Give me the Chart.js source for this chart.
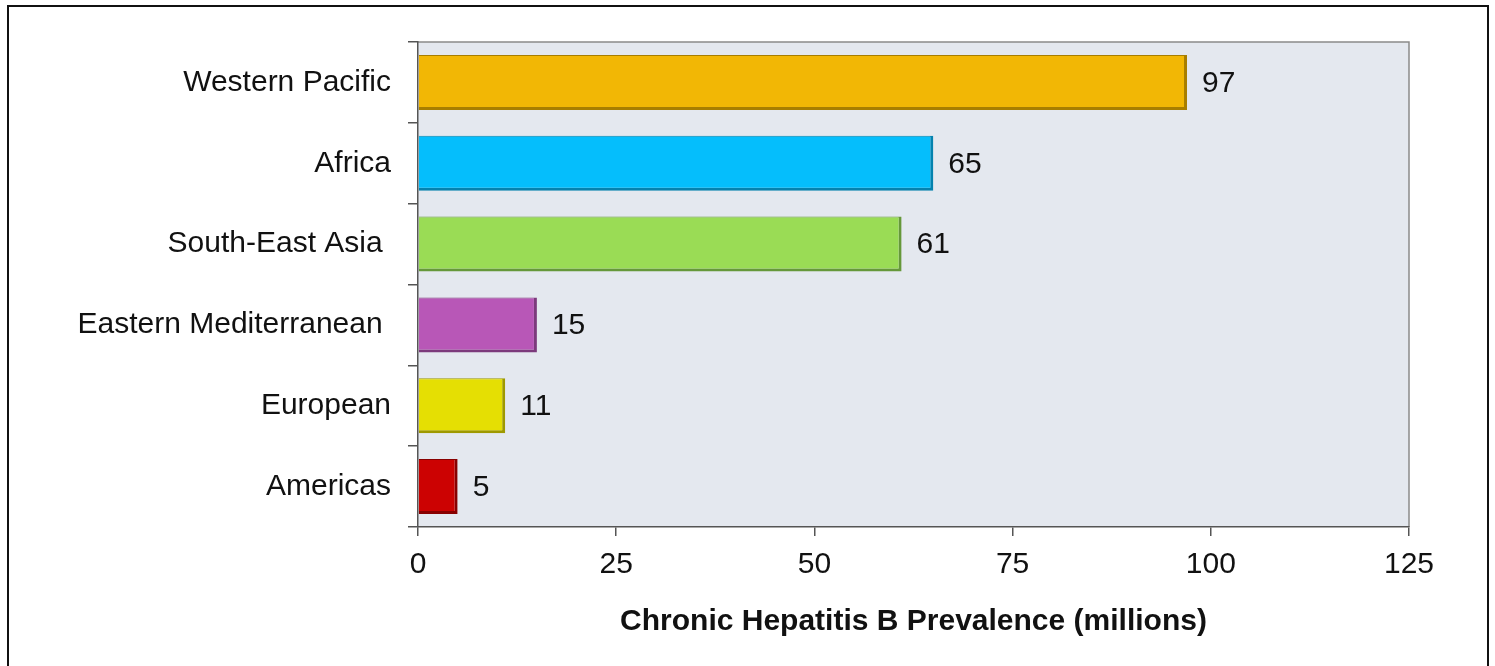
<!DOCTYPE html>
<html>
<head>
<meta charset="utf-8">
<script src="https://cdn.jsdelivr.net/npm/chart.js@4.4.1/dist/chart.umd.min.js"></script>
<style>
    html, body { margin: 0; padding: 0; background: #fff; }
    canvas { display: block; }
</style>
</head>
<body>
<canvas id="prevalenceChart" width="1495" height="666" style="width:1495px;height:666px;"></canvas>
<script>
const regions = ['Western Pacific', 'Africa', 'South-East Asia ', 'Eastern Mediterranean ', 'European', 'Americas'];
const prevalence = [97, 65, 61, 15, 11, 5];
const barColors = ['#F2B705', '#05BEFC', '#9ADC55', '#B857B7', '#E5DF03', '#CC0202'];
const edgeColors = ['#A87E00', '#0582AE', '#65983A', '#7C3A7C', '#9E9900', '#880000'];
const xTicks = [0, 25, 50, 75, 100, 125];
const axisTitle = 'Chronic Hepatitis B Prevalence (millions)';

const FONT = 'Arial, "Liberation Sans", Helvetica, sans-serif';

// plot background, outer frame, top/right edges of plot box
const framePlugin = {
    id: 'frame',
    beforeDraw(chart) {
        const { ctx, chartArea: a } = chart;
        ctx.save();
        ctx.fillStyle = '#fff';
        ctx.fillRect(0, 0, chart.width, chart.height);
        ctx.strokeStyle = '#111';
        ctx.lineWidth = 2;
        ctx.strokeRect(8, 6, 1480, 700);
        ctx.fillStyle = '#E4E8EF';
        ctx.fillRect(a.left, a.top, a.right - a.left, a.bottom - a.top);
        ctx.strokeStyle = '#8a8a8a';
        ctx.lineWidth = 1.5;
        ctx.beginPath();
        ctx.moveTo(a.left, a.top);
        ctx.lineTo(a.right, a.top);
        ctx.lineTo(a.right, a.bottom);
        ctx.stroke();
        ctx.restore();
    }
};

// value labels at the end of each bar
const valueLabels = {
    id: 'valueLabels',
    afterDatasetsDraw(chart) {
        const { ctx } = chart;
        const meta = chart.getDatasetMeta(0);
        ctx.save();
        ctx.font = '30px ' + FONT;
        ctx.fillStyle = '#111';
        ctx.textAlign = 'left';
        ctx.textBaseline = 'middle';
        meta.data.forEach((bar, i) => {
            ctx.fillText(String(prevalence[i]), bar.x + 15, bar.y + 1);
        });
        ctx.restore();
    }
};

const ctx = document.getElementById('prevalenceChart').getContext('2d');

new Chart(ctx, {
    type: 'bar',
    data: {
        labels: regions,
        datasets: [{
            data: prevalence,
            backgroundColor: barColors,
            borderColor: edgeColors,
            borderWidth: { top: 1, right: 3, bottom: 3, left: 0 },
            borderSkipped: false,
            barPercentage: 1,
            categoryPercentage: 0.68
        }]
    },
    options: {
        indexAxis: 'y',
        responsive: false,
        animation: false,
        devicePixelRatio: 1,
        layout: { padding: { left: 0, top: 42, right: 86, bottom: 0 } },
        plugins: {
            legend: { display: false },
            tooltip: { enabled: false }
        },
        scales: {
            x: {
                min: 0,
                max: 125,
                afterBuildTicks: (scale) => { scale.ticks = xTicks.map(v => ({ value: v })); },
                afterFit: (scale) => { scale.height = 139; },
                grid: { drawOnChartArea: false, tickLength: 9, color: '#555', lineWidth: 1.5 },
                border: { color: '#555', width: 1.5 },
                ticks: { color: '#111', font: { size: 30, family: FONT }, padding: 11 },
                title: {
                    display: true,
                    text: axisTitle,
                    color: '#111',
                    font: { size: 30, weight: 'bold', family: FONT },
                    padding: { top: 0, bottom: 26 }
                }
            },
            y: {
                afterFit: (scale) => { scale.width = 418; },
                grid: { drawOnChartArea: false, offset: true, tickLength: 10, color: '#555', lineWidth: 1.5 },
                border: { color: '#555', width: 1.5 },
                ticks: { color: '#111', font: { size: 30, family: FONT }, padding: 17 }
            }
        }
    },
    plugins: [framePlugin, valueLabels]
});
</script>
</body>
</html>
